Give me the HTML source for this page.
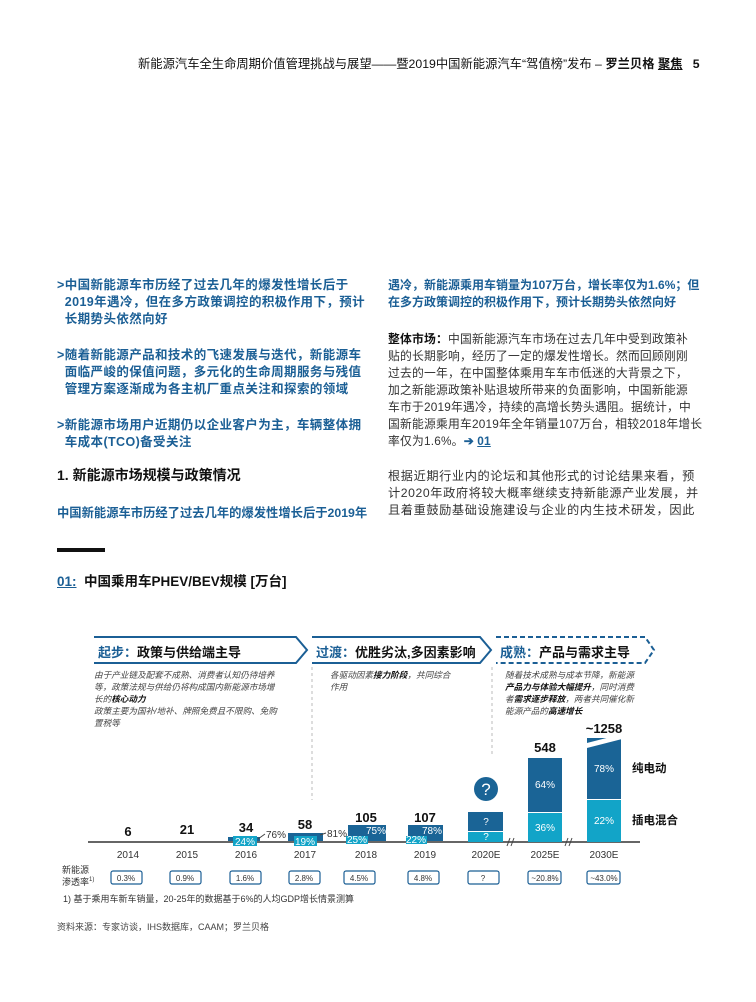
<!DOCTYPE html>
<html><head><meta charset="utf-8">
<style>
body{margin:0;width:756px;height:1002px;background:#fff;position:relative;overflow:hidden;font-family:"Liberation Sans","Noto Sans CJK SC",sans-serif;}
.a{position:absolute;white-space:nowrap;}
.b{color:#1b5f95;font-weight:bold;font-size:12.5px;}
.t{color:#333;font-size:12.2px;}
.d{color:#444;font-size:8.6px;font-style:italic;line-height:12px;}
</style></head><body>
<div class="a" style="left:138px;top:54px;font-size:12.3px;color:#111;">新能源汽车全生命周期价值管理挑战与展望——暨2019中国新能源汽车“驾值榜”发布 – <b>罗兰贝格 <u>聚焦</u></b>&nbsp;&nbsp; <b>5</b></div>

<div class="a b" style="left:57px;top:277px;line-height:17px;letter-spacing:0.4px;">&gt;中国新能源车市历经了过去几年的爆发性增长后于<br>&nbsp; 2019年遇冷，但在多方政策调控的积极作用下，预计<br>&nbsp; 长期势头依然向好</div>
<div class="a b" style="left:57px;top:347px;line-height:17px;letter-spacing:0.4px;">&gt;随着新能源产品和技术的飞速发展与迭代，新能源车<br>&nbsp; 面临严峻的保值问题，多元化的生命周期服务与残值<br>&nbsp; 管理方案逐渐成为各主机厂重点关注和探索的领域</div>
<div class="a b" style="left:57px;top:417px;line-height:17px;letter-spacing:0.4px;">&gt;新能源市场用户近期仍以企业客户为主，车辆整体拥<br>&nbsp; 车成本(TCO)备受关注</div>
<div class="a" style="left:57px;top:465px;font-size:14px;color:#111;font-weight:bold;">1. 新能源市场规模与政策情况</div>
<div class="a b" style="left:57px;top:503px;font-size:12.3px;">中国新能源车市历经了过去几年的爆发性增长后于2019年</div>

<div class="a b" style="left:388px;top:277px;line-height:17px;font-size:12px;">遇冷，新能源乘用车销量为107万台，增长率仅为1.6%；但<br>在多方政策调控的积极作用下，预计长期势头依然向好</div>
<div class="a t" style="left:388px;top:331px;line-height:17px;font-size:11.8px;letter-spacing:0.2px;"><b style="color:#111">整体市场：</b>中国新能源汽车市场在过去几年中受到政策补<br>贴的长期影响，经历了一定的爆发性增长。然而回顾刚刚<br>过去的一年，在中国整体乘用车车市低迷的大背景之下，<br>加之新能源政策补贴退坡所带来的负面影响，中国新能源<br>车市于2019年遇冷，持续的高增长势头遇阻。据统计，中<br>国新能源乘用车2019年全年销量107万台，相较2018年增长<br>率仅为1.6%。<b style="color:#1b5f95">➔ <u>01</u></b></div>
<div class="a t" style="left:388px;top:468px;line-height:17px;letter-spacing:0.6px;">根据近期行业内的论坛和其他形式的讨论结果来看，预<br>计2020年政府将较大概率继续支持新能源产业发展，并<br>且着重鼓励基础设施建设与企业的内生技术研发，因此</div>

<div class="a" style="left:57px;top:548px;width:48px;height:4px;background:#111;"></div>
<div class="a" style="left:57px;top:570px;font-size:13.5px;font-weight:bold;color:#111;"><span style="color:#1b5f95;text-decoration:underline;">01:</span>&nbsp; 中国乘用车PHEV/BEV规模 [万台]</div>

<svg class="a" style="left:0;top:0" width="756" height="1002">
<g fill="none" stroke="#1b5f95" stroke-width="2">
<polyline points="94,637 296,637 307,650 296,663 94,663"/>
<polyline points="312,637 480,637 491,650 480,663 312,663"/>
<polyline points="496,637 645,637 654,650 645,663 496,663" stroke-dasharray="5,3"/>
</g>
<g stroke="#bbb" stroke-dasharray="3,3"><line x1="312" y1="667" x2="312" y2="800"/><line x1="492" y1="667" x2="492" y2="755"/></g>
<line x1="88" y1="842" x2="640" y2="842" stroke="#666" stroke-width="2"/>
<rect x="228" y="837" width="32" height="4" fill="#1a6496"/>
<rect x="233" y="836" width="24" height="10" fill="#12a4c8"/>
<rect x="288" y="833" width="35" height="8" fill="#1a6496"/>
<rect x="294" y="836" width="23" height="10" fill="#12a4c8"/>
<rect x="348" y="825" width="38" height="16" fill="#1a6496"/>
<rect x="346" y="836" width="22" height="8" fill="#12a4c8"/>
<rect x="408" y="825" width="35" height="16" fill="#1a6496"/>
<rect x="406" y="836" width="21" height="8" fill="#12a4c8"/>
<rect x="468" y="812" width="35" height="19" fill="#1a6496"/>
<rect x="468" y="832" width="35" height="10" fill="#12a4c8"/>
<circle cx="486" cy="789" r="12" fill="#1a6496"/>
<rect x="528" y="758" width="34" height="54" fill="#1a6496"/>
<rect x="528" y="813" width="34" height="29" fill="#12a4c8"/>
<rect x="587" y="738" width="34" height="61" fill="#1a6496"/>
<rect x="587" y="800" width="34" height="42" fill="#12a4c8"/>
<polygon points="583,744 626,733 626,738 583,749" fill="#fff"/>
<g stroke="#444" stroke-width="1"><line x1="507" y1="846" x2="510" y2="838"/><line x1="511" y1="846" x2="514" y2="838"/><line x1="565" y1="846" x2="568" y2="838"/><line x1="569" y1="846" x2="572" y2="838"/>
<line x1="258" y1="839" x2="265" y2="834"/><line x1="320" y1="835" x2="326" y2="833"/></g>
<g fill="none" stroke="#1b5f95" stroke-width="1.2">
<rect x="111" y="871" width="31" height="13" rx="2"/><rect x="170" y="871" width="31" height="13" rx="2"/><rect x="230" y="871" width="31" height="13" rx="2"/><rect x="289" y="871" width="31" height="13" rx="2"/>
<rect x="344" y="871" width="31" height="13" rx="2"/><rect x="408" y="871" width="31" height="13" rx="2"/><rect x="468" y="871" width="31" height="13" rx="2"/><rect x="528" y="871" width="33" height="13" rx="2"/><rect x="587" y="871" width="33" height="13" rx="2"/>
</g>
<g font-family="Liberation Sans,sans-serif" font-size="10" fill="#fff" text-anchor="middle">
<text x="245" y="845">24%</text><text x="305" y="845">19%</text><text x="376" y="834">75%</text><text x="357" y="843">25%</text><text x="432" y="834">78%</text><text x="416" y="843">22%</text>
<text x="486" y="825">?</text><text x="486" y="840">?</text><text x="486" y="795" font-size="17">?</text>
<text x="545" y="788">64%</text><text x="545" y="831">36%</text><text x="604" y="772">78%</text><text x="604" y="824">22%</text>
</g>
<g font-family="Liberation Sans,sans-serif" font-size="10" fill="#333"><text x="266" y="838">76%</text><text x="327" y="837">81%</text></g>
<g font-family="Liberation Sans,sans-serif" font-size="13" font-weight="bold" fill="#111" text-anchor="middle">
<text x="128" y="836">6</text><text x="187" y="834">21</text><text x="246" y="832">34</text><text x="305" y="829">58</text><text x="366" y="822">105</text><text x="425" y="822">107</text><text x="545" y="752">548</text><text x="604" y="733">~1258</text>
</g>
<g font-family="Liberation Sans,sans-serif" font-size="10" fill="#333" text-anchor="middle">
<text x="128" y="858">2014</text><text x="187" y="858">2015</text><text x="246" y="858">2016</text><text x="305" y="858">2017</text><text x="366" y="858">2018</text><text x="425" y="858">2019</text><text x="486" y="858">2020E</text><text x="545" y="858">2025E</text><text x="604" y="858">2030E</text>
</g>
<g font-family="Liberation Sans,sans-serif" font-size="8" fill="#333" text-anchor="middle">
<text x="126" y="881">0.3%</text><text x="185" y="881">0.9%</text><text x="245" y="881">1.6%</text><text x="304" y="881">2.8%</text><text x="359" y="881">4.5%</text><text x="423" y="881">4.8%</text><text x="483" y="881">?</text><text x="545" y="881">~20.8%</text><text x="604" y="881">~43.0%</text>
</g>
</svg>

<div class="a" style="left:98px;top:642px;font-size:13px;font-weight:bold;color:#111;"><span style="color:#1b5f95">起步：</span>政策与供给端主导</div>
<div class="a" style="left:316px;top:642px;font-size:13px;font-weight:bold;color:#111;"><span style="color:#1b5f95">过渡：</span>优胜劣汰,多因素影响</div>
<div class="a" style="left:500px;top:642px;font-size:13px;font-weight:bold;color:#111;"><span style="color:#1b5f95">成熟：</span>产品与需求主导</div>

<div class="a d" style="left:94px;top:669px;">由于产业链及配套不成熟、消费者认知仍待培养<br>等，政策法规与供给仍将构成国内新能源市场增<br>长的<b style="color:#111">核心动力</b><br>政策主要为国补/地补、牌照免费且不限购、免购<br>置税等</div>
<div class="a d" style="left:330px;top:669px;">各驱动因素<b style="color:#111">接力阶段</b>，共同综合<br>作用</div>
<div class="a d" style="left:505px;top:669px;">随着技术成熟与成本节降，新能源<br><b style="color:#111">产品力与体验大幅提升</b>，同时消费<br>者<b style="color:#111">需求逐步释放</b>，两者共同催化新<br>能源产品的<b style="color:#111">高速增长</b></div>

<div class="a" style="left:632px;top:760px;font-size:11.5px;font-weight:bold;color:#111;">纯电动</div>
<div class="a" style="left:632px;top:812px;font-size:11.5px;font-weight:bold;color:#111;">插电混合</div>
<div class="a" style="left:62px;top:865px;font-size:9px;line-height:10px;color:#333;">新能源<br>渗透率<sup style="font-size:6px">1)</sup></div>
<div class="a" style="left:63px;top:892px;font-size:9px;color:#333;">1) 基于乘用车新车销量，20-25年的数据基于6%的人均GDP增长情景测算</div>
<div class="a" style="left:57px;top:920px;font-size:9px;color:#444;">资料来源：专家访谈，IHS数据库，CAAM；罗兰贝格</div>
</body></html>
